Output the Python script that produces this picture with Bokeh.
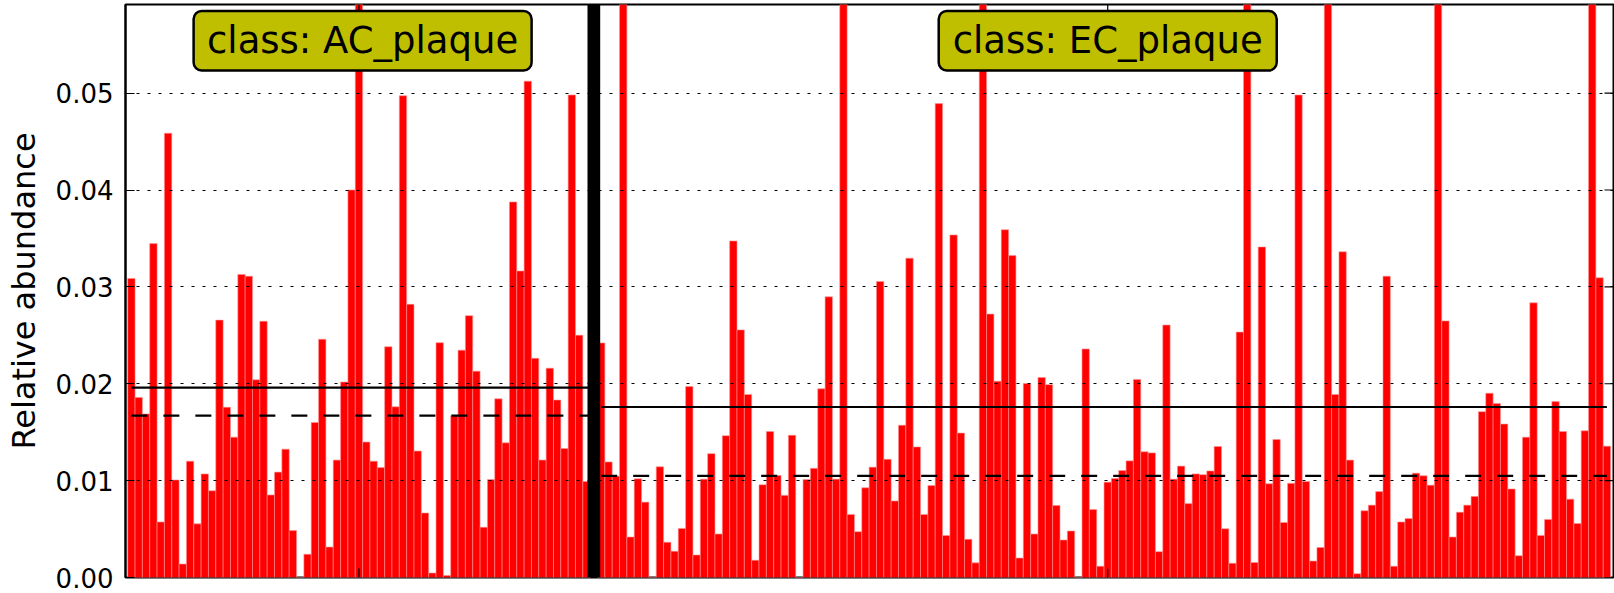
from bokeh.plotting import figure
from bokeh.models import Range1d, FixedTicker, PrintfTickFormatter, Span, Label, BoxAnnotation
from bokeh.embed import file_html
from bokeh.resources import INLINE

# ---------------- data ----------------
class_names = ["AC_plaque", "EC_plaque"]

ac_values = [
    0.03087, 0.01859, 0.01689, 0.03447, 0.00573, 0.04586, 0.01007, 0.00139, 0.01201, 0.00554,
    0.01069, 0.00895, 0.02657, 0.01758, 0.01449, 0.03129, 0.03110, 0.02041, 0.02645, 0.00852,
    0.01088, 0.01325, 0.00484, 0.00000, 0.00240, 0.01600, 0.02459, 0.00314, 0.01212, 0.02018,
    0.04001, 0.07800, 0.01398, 0.01201, 0.01135, 0.02382, 0.01762, 0.04973, 0.02820, 0.01305,
    0.00666, 0.00046, 0.02424, 0.00020, 0.01669, 0.02347, 0.02703, 0.02130, 0.00519, 0.01011,
    0.01844, 0.01390, 0.03877, 0.03164, 0.05124, 0.02262, 0.01212, 0.02161, 0.01832, 0.01332,
    0.04981, 0.02502, 0.00991,
]

ec_values = [
    0.02421, 0.01193, 0.01046, 0.14200, 0.00418, 0.01019, 0.00778, 0.00000, 0.01143, 0.00364,
    0.00271, 0.00507, 0.01971, 0.00232, 0.01015, 0.01278, 0.00449, 0.01464, 0.03474, 0.02556,
    0.01890, 0.00178, 0.00957, 0.01507, 0.01053, 0.00848, 0.01468, 0.00000, 0.01011, 0.01127,
    0.01948, 0.02897, 0.01015, 0.08800, 0.00651, 0.00473, 0.00926, 0.01139, 0.03056, 0.01220,
    0.00790, 0.01572, 0.03296, 0.01348, 0.00651, 0.00949, 0.04892, 0.00434, 0.03536, 0.01491,
    0.00395, 0.00151, 0.07500, 0.02719, 0.02026, 0.03590, 0.03323, 0.00201, 0.02002, 0.00449,
    0.02064, 0.01991, 0.00744, 0.00387, 0.00480, 0.00000, 0.02359, 0.00701, 0.00116, 0.00984,
    0.01022, 0.01104, 0.01204, 0.02045, 0.01297, 0.01286, 0.00267, 0.02606, 0.01015, 0.01150,
    0.00763, 0.01069, 0.01061, 0.01100, 0.01352, 0.00503, 0.00147, 0.02533, 0.11500, 0.00155,
    0.03412, 0.00968, 0.01425, 0.00569, 0.00972, 0.04981, 0.00991, 0.00170, 0.00310, 0.09700,
    0.01890, 0.03362, 0.01212, 0.00039, 0.00689, 0.00747, 0.00887, 0.03110, 0.00116, 0.00573,
    0.00608, 0.01077, 0.01050, 0.00953, 0.12800, 0.02649, 0.00418, 0.00674, 0.00747, 0.00837,
    0.01712, 0.01902, 0.01797, 0.01584, 0.00914, 0.00225, 0.01449, 0.02835, 0.00434, 0.00600,
    0.01816, 0.01507, 0.00809, 0.00558, 0.01514, 0.08600, 0.03094, 0.01356,
]

class_means = [0.0196, 0.0176]
class_medians = [0.0167, 0.0105]
y_ticks = [0.00, 0.01, 0.02, 0.03, 0.04, 0.05]

# ---------------- positions derived from sample index ----------------
n_ac = len(ac_values)
n_ec = len(ec_values)
ac_x = [i + 0.5 for i in range(n_ac)]
sep_x = n_ac + 0.5
ec_x = [n_ac + 1 + j + 0.5 for j in range(n_ec)]
ac_center = (ac_x[0] + ac_x[-1]) / 2.0
ec_center = (ec_x[0] + ec_x[-1] + 1) / 2.0
class_centers = [ac_center, ec_center]
label_centers = [(0 + n_ac + 1) / 2.0, ec_center]

FONT = "DejaVu Sans"

W, H = 1614, 593
BL, BR, BT, BB = 125, 1, 4, 16
X0, X1 = -0.3, 202.4
Y0, Y1 = 0.0, 0.05915

frame_w = W - BL - BR
frame_h = H - BT - BB
px_x = frame_w / (X1 - X0)      # pixels per x unit
px_y = frame_h / (Y1 - Y0)      # pixels per y unit

p = figure(width=W, height=H,
           x_range=Range1d(X0, X1), y_range=Range1d(Y0, Y1),
           output_backend="svg", toolbar_location=None,
           min_border_left=BL, min_border_right=BR, min_border_top=BT, min_border_bottom=BB)

p.background_fill_color = "white"
p.border_fill_color = "white"
p.outline_line_color = "black"
p.outline_line_width = 2

# bars
p.vbar(x=ac_x, top=ac_values, bottom=0, width=1.0,
       fill_color="#ff0000", line_color="#ff9090", line_width=0.6)
p.vbar(x=ec_x, top=ec_values, bottom=0, width=1.0,
       fill_color="#ff0000", line_color="#ff9090", line_width=0.6)

# mean (solid) and median (dashed) lines per class
p.segment(x0=[ac_x[0], ec_x[0]], x1=[sep_x, ec_x[-1]], y0=class_means, y1=class_means,
          line_color="black", line_width=2.2)
p.segment(x0=[ac_x[0], ec_x[0]], x1=[sep_x, ec_x[-1]], y0=class_medians, y1=class_medians,
          line_color="black", line_width=2.2, line_dash="16 16")

# class separator
p.add_layout(Span(location=sep_x, dimension="height", line_color="black", line_width=12.7))

# inward tick marks on bottom/top/right (no labels there)
tick_px = 9
dx = tick_px / px_x
dy = tick_px / px_y
p.segment(x0=class_centers, x1=class_centers, y0=[Y0] * 2, y1=[Y0 + dy] * 2,
          line_color="black", line_width=1.2)
p.segment(x0=class_centers, x1=class_centers, y0=[Y1] * 2, y1=[Y1 - dy] * 2,
          line_color="black", line_width=1.2)
p.segment(x0=[X1] * len(y_ticks), x1=[X1 - dx] * len(y_ticks), y0=y_ticks, y1=y_ticks,
          line_color="black", line_width=1.2)

# axes
p.xaxis.visible = False

p.yaxis.ticker = FixedTicker(ticks=y_ticks)
p.yaxis.formatter = PrintfTickFormatter(format="%.2f")
p.yaxis.major_label_text_font = FONT
p.yaxis.major_label_text_font_size = "26px"
p.yaxis.major_label_text_color = "black"
p.yaxis.major_label_standoff = 12
p.yaxis.major_tick_in = 9
p.yaxis.major_tick_out = 0
p.yaxis.minor_tick_line_color = None
p.yaxis.axis_line_color = "black"
p.yaxis.axis_line_width = 2
p.yaxis.major_tick_line_width = 1.2
p.yaxis.axis_label = "Relative abundance"
p.yaxis.axis_label_text_font = FONT
p.yaxis.axis_label_text_font_size = "32px"
p.yaxis.axis_label_text_font_style = "normal"
p.yaxis.axis_label_text_color = "black"
p.yaxis.axis_label_standoff = 10

# grid
p.xgrid.visible = False
p.ygrid.grid_line_color = "black"
p.ygrid.grid_line_width = 1.2
p.ygrid.grid_line_dash = "3 8"
p.ygrid.level = "annotation"

# class label boxes (rounded, olive-yellow) with text
box_half_w = 169 / px_x
box_top = Y1 - 6.5 / px_y
box_bottom = Y1 - 66 / px_y
text_base = Y1 - 36 / px_y
for cx, name in zip(label_centers, class_names):
    p.add_layout(BoxAnnotation(left=cx - box_half_w, right=cx + box_half_w,
                               top=box_top, bottom=box_bottom,
                               fill_color="#bfbf00", fill_alpha=1.0,
                               line_color="black", line_alpha=1.0, line_width=2.5,
                               border_radius=8))
    p.add_layout(Label(x=cx, y=text_base, text="class: " + name,
                       text_align="center", text_baseline="alphabetic",
                       text_font=FONT, text_font_size="37px", text_color="black"))

open("out.html", "w").write(file_html(p, INLINE))
